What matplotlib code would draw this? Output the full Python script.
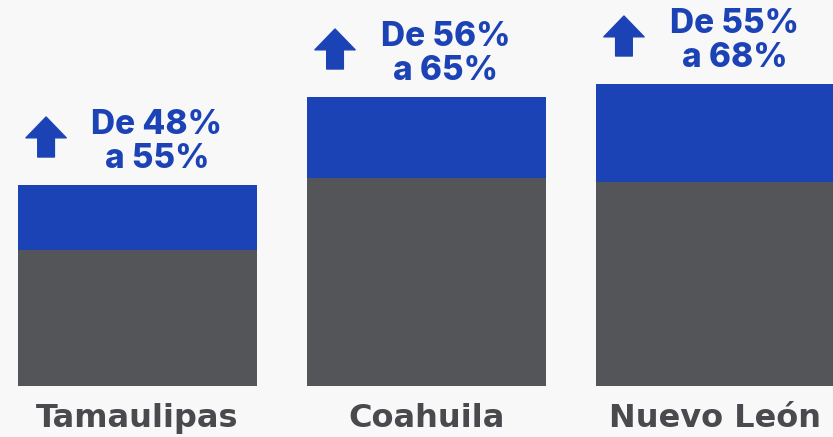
import matplotlib.pyplot as plt

# States and bar heights as drawn (visual units, the graphic is not to scale)
states = ['Tamaulipas', 'Coahuila', 'Nuevo León']
before_height = [136, 208, 204]
increase_height = [65, 81, 98]
pct_before = [48, 56, 55]
pct_after = [55, 65, 68]

blue = '#1c43b6'
gray = '#545558'
bar_w = 0.827

fig = plt.figure(figsize=(8.33, 4.37), dpi=100)
fig.patch.set_facecolor('#f8f8f9')
ax = fig.add_axes([0, 0, 1, 1])
ax.set_facecolor('#f8f8f9')

x = range(len(states))
ax.bar(x, before_height, width=bar_w, color=gray)
ax.bar(x, increase_height, bottom=before_height, width=bar_w, color=blue)

for i, state in enumerate(states):
    top = before_height[i] + increase_height[i]
    ax.annotate(f'De {pct_before[i]}%\na {pct_after[i]}%', xy=(i, top),
                xytext=(14, 12.2), textcoords='offset points',
                ha='center', va='baseline', color=blue, fontsize=24,
                fontweight='heavy', family='Inter', linespacing=1.1)
    # up arrow left of the label
    left = i - bar_w / 2
    ax.annotate('', xy=(left + 0.097, top + 68), xytext=(left + 0.097, top + 28),
                arrowprops=dict(arrowstyle='simple,head_length=0.75,head_width=1.45,tail_width=0.6',
                                color=blue, shrinkA=0, shrinkB=0, mutation_scale=20))
    ax.text(i, -41, state, ha='center', va='baseline', color='#4a4a4e',
            fontsize=23, fontweight='heavy', family='DejaVu Sans')

ax.set_xlim(-0.476, 2.407)
ax.set_ylim(-51, 386)
ax.axis('off')

plt.savefig('out.png', dpi=100, facecolor=fig.get_facecolor())
